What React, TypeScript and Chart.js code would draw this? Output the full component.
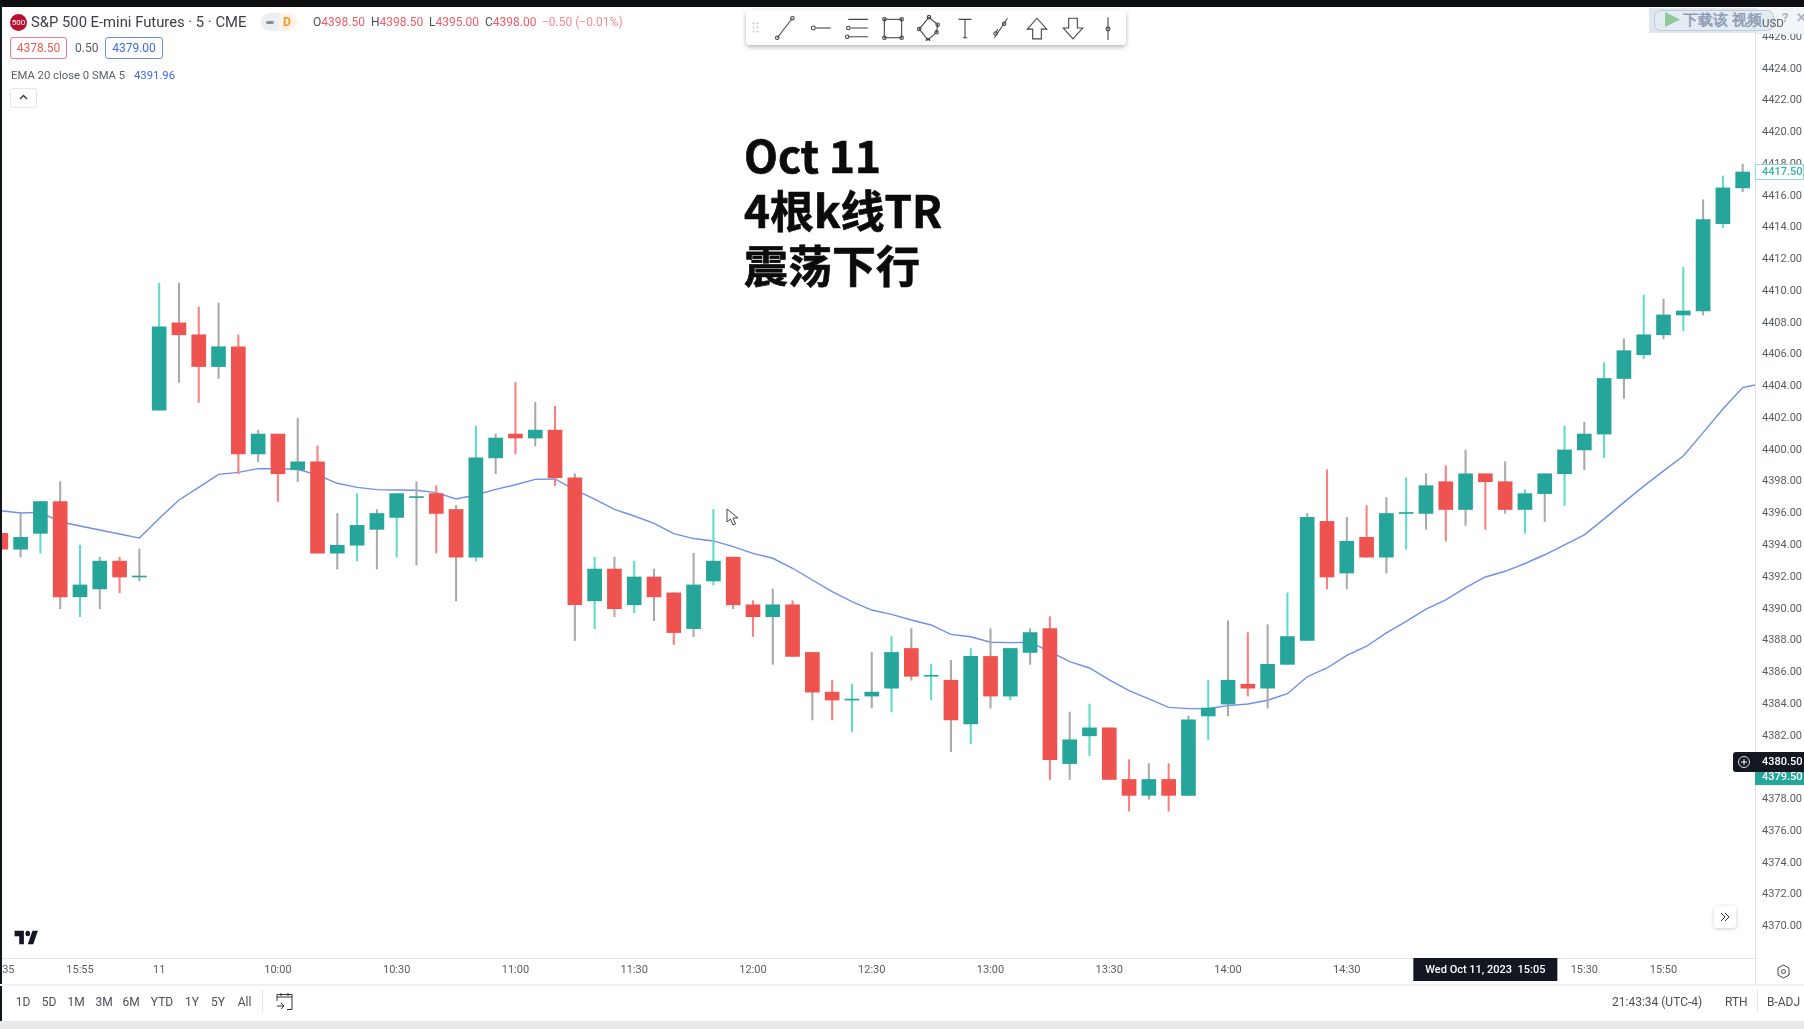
import React, { useEffect, useRef } from "react";
import { Chart, registerables } from "chart.js";

Chart.register(...registerables);

const opens = [4394.75,4393.75,4394.75,4396.75,4390.75,4391.25,4393,4392,4402.5,4408,4407.25,4405.25,4406.5,4399.75,4401,4398.75,4399.25,4393.5,4394,4395,4395.75,4397,4397.25,4396.25,4393.25,4399.5,4401,4400.75,4401.25,4398.25,4390.5,4392.5,4390.25,4392,4391,4388.75,4391.75,4393.25,4390.25,4389.5,4390.25,4387.25,4384.75,4384.25,4384.5,4385,4387.5,4385.75,4385.5,4382.75,4387,4384.5,4387.25,4388.75,4380.25,4382,4382.5,4379.25,4378.25,4379.25,4378.25,4383.25,4384,4385.25,4385,4386.5,4388,4395.5,4392.25,4394.5,4393.25,4396,4396,4398,4396.25,4398.5,4398,4396.25,4397.25,4398.5,4400,4401,4404.5,4406,4407.25,4408.5,4408.75,4414.25,4416.5];
const highs = [4394.75,4396,4396.75,4398,4394,4393.25,4393.25,4393.75,4410.5,4410.5,4409,4409.25,4407.25,4401.25,4401,4402,4400.25,4396,4397.25,4396.25,4397.25,4398,4397.75,4396.5,4401.5,4401,4404.25,4403,4402.75,4398.5,4393.25,4393.25,4393,4392.5,4391,4393.5,4396.25,4393.25,4390.5,4391.25,4390.5,4387.25,4385.5,4385.25,4387.25,4388.25,4388.75,4386.5,4386.75,4387.5,4388.75,4387.5,4388.75,4389.5,4383.5,4384,4382.5,4380.5,4380.25,4380.25,4383.25,4385.5,4389.25,4388.5,4389,4391,4396,4398.75,4395.75,4396.5,4397,4398.25,4398.5,4399,4400,4398.5,4399.25,4397.5,4398.5,4401.5,4401.75,4405.5,4407,4409.75,4409.5,4411.5,4415.75,4417.25,4418];
const lows = [4393.75,4393.25,4393.5,4390,4389.5,4390,4391,4391.75,4402.5,4404.25,4403,4404.5,4398.5,4399.25,4396.75,4398,4393.5,4392.5,4393,4392.5,4393.25,4392.75,4393.5,4390.5,4393,4398.5,4399.75,4400.25,4397.75,4388,4388.75,4389.5,4389.75,4389.25,4387.75,4388.25,4391.5,4390,4388.25,4386.5,4387,4383,4383,4382.25,4383.75,4383.5,4385.5,4384.25,4381,4381.5,4383.75,4384.25,4386.5,4379.25,4379.25,4380.75,4379.25,4377.25,4378,4377.25,4378.25,4381.75,4383.25,4384.5,4383.75,4386.5,4388,4391.25,4391.25,4393.25,4392.25,4393.75,4395,4394.25,4395.25,4395,4396,4394.75,4395.5,4396.5,4398.75,4399.5,4403.25,4405.75,4407,4407.5,4408.5,4414,4416.25];
const closes = [4393.75,4394.5,4396.75,4390.75,4391.5,4393,4392,4392,4407.75,4407.25,4405.25,4406.5,4399.75,4401,4398.5,4399.25,4393.5,4394,4395.25,4396,4397.25,4397,4396,4393.25,4399.5,4400.75,4400.75,4401.25,4398.25,4390.25,4392.5,4390,4392,4390.75,4388.5,4391.5,4393,4390.25,4389.5,4390.25,4387,4384.75,4384.25,4384.25,4384.75,4387.25,4385.75,4385.75,4383,4387,4384.5,4387.5,4388.5,4380.5,4381.75,4382.5,4379.25,4378.25,4379.25,4378.25,4383,4383.75,4385.5,4385,4386.5,4388.25,4395.75,4392,4394.25,4393.25,4396,4396,4397.75,4396.25,4398.5,4398,4396.25,4397.25,4398.5,4400,4401,4404.5,4406.25,4407.25,4408.5,4408.75,4414.5,4416.5,4417.5];
const ema = [4396.17,4396.03,4396.07,4395.48,4395.21,4394.96,4394.71,4394.45,4395.69,4396.85,4397.64,4398.46,4398.59,4398.82,4398.82,4398.78,4398.42,4397.9,4397.64,4397.5,4397.48,4397.46,4397.31,4396.91,4397.16,4397.52,4397.81,4398.15,4398.17,4397.48,4396.9,4396.26,4395.84,4395.38,4394.73,4394.42,4394.27,4393.91,4393.49,4393.18,4392.55,4391.81,4391.08,4390.45,4389.92,4389.65,4389.29,4388.98,4388.39,4388.24,4387.89,4387.87,4387.89,4387.3,4386.67,4386.27,4385.52,4384.84,4384.32,4383.79,4383.71,4383.72,4383.9,4384,4384.24,4384.65,4385.72,4386.27,4387.06,4387.64,4388.48,4389.21,4389.98,4390.56,4391.33,4392,4392.36,4392.85,4393.4,4394.03,4394.65,4395.66,4396.7,4397.72,4398.68,4399.62,4401.09,4402.58,4403.93,4404.19];
const priceTicks = [4370,4372,4374,4376,4378,4380,4382,4384,4386,4388,4390,4392,4394,4396,4398,4400,4402,4404,4406,4408,4410,4412,4414,4416,4418,4420,4422,4424,4426];
const timeTickBars = [0,4,8,14,20,26,32,38,44,50,56,62,68,80,84];
const timeTickLabels = ["15:35","15:55","11","10:00","10:30","11:00","11:30","12:00","12:30","13:00","13:30","14:00","14:30","15:30","15:50"];
const annotationLines = ["Oct 11", "4根k线TR", "震荡下行"];
const rangeButtons = ["1D","5D","1M","3M","6M","YTD","1Y","5Y","All"];
const rangeCenters = [23,49,76,104,131,162,192,218,244.5];
const lastPriceTag = 4417.5;
const crosshairPriceTag = 4380.5;
const askPriceTag = 4379.5;
const crosshairBar = 75;
const crosshairLabel = "Wed Oct 11, 2023  15:05";

const GREEN = "#26a69a";
const RED = "#ef5350";
const WICK_GREEN = "#5edcc8";
const WICK_RED = "#fb7f7f";
const WICK_GRAY = "#a9a9a9";
const FONT = "Roboto, 'Noto Sans', sans-serif";
const BAR_STEP = 19.794;
const FIRST_BAR_X = 0.81;
const PLOT_RIGHT = 1755;

const isUp = (i: number) => closes[i] >= opens[i];
const wickMuted = (i: number) => (i <= 42 ? i % 2 === 1 : i % 2 === 0);

const priceTags = {
  id: "priceTags",
  afterDraw(chart: any) {
    const { ctx, scales } = chart;
    const y = scales.y;
    const x = scales.x;
    const tag = (v: number, up: number, down: number, textDy: number, fill: string, stroke: string, color: string) => {
      const py = Math.round(y.getPixelForValue(v));
      ctx.save();
      ctx.fillStyle = fill;
      ctx.strokeStyle = stroke;
      ctx.fillRect(PLOT_RIGHT, py - up, 49, up + down);
      if (stroke !== fill) ctx.strokeRect(PLOT_RIGHT + 0.5, py - up + 0.5, 48, up + down - 1);
      ctx.fillStyle = color;
      ctx.font = `500 11px ${FONT}`;
      ctx.textBaseline = "middle";
      ctx.textAlign = "left";
      ctx.fillText(v.toFixed(2), 1762, py + textDy);
      ctx.restore();
    };
    tag(lastPriceTag, 8, 8, 0.5, "#ffffff", "#8fdcd2", "#35b5a6");
    tag(askPriceTag, 8, 9, 1.5, GREEN, GREEN, "#ffffff");
    tag(crosshairPriceTag, 8, 12, 2, "#131722", "#131722", "#ffffff");
    const cx = x.getPixelForValue(crosshairBar);
    ctx.save();
    ctx.fillStyle = "#131722";
    ctx.fillRect(cx - 72, chart.chartArea.bottom, 144, 23);
    ctx.fillStyle = "#ffffff";
    ctx.font = `500 11px ${FONT}`;
    ctx.textBaseline = "middle";
    ctx.textAlign = "center";
    ctx.fillText(crosshairLabel, cx, chart.chartArea.bottom + 12);
    ctx.restore();
  },
};

const Txt = ({ x, y, size = 12, color = "#4a4e58", weight = 400, center = false, children }: any) => (
  <div
    style={{
      position: "absolute",
      left: x,
      top: y - 12,
      height: 24,
      lineHeight: "24px",
      fontSize: size,
      fontWeight: weight,
      color,
      fontFamily: FONT,
      whiteSpace: "pre",
      transform: center ? "translateX(-50%)" : undefined,
    }}
  >
    {children}
  </div>
);

const Box = ({ x, y, w, h, style }: any) => (
  <div style={{ position: "absolute", left: x, top: y, width: w, height: h, boxSizing: "border-box", ...style }} />
);

const toolIcons: React.ReactNode[] = [
  <g><path d="M3 21 L17 3" /><circle cx="3" cy="21" r="1.6" /><circle cx="17" cy="3" r="1.6" /></g>,
  <g><path d="M6 12 H20" /><circle cx="4" cy="12" r="1.8" /></g>,
  <g><path d="M4 4 H22 M6 12 H22 M4 20 H22" /><circle cx="3" cy="20" r="1.6" /><circle cx="4" cy="12" r="1.6" /></g>,
  <g><rect x="4" y="4" width="16" height="17" /><circle cx="4" cy="4" r="1.6" /><circle cx="20" cy="4" r="1.6" /><circle cx="4" cy="21" r="1.6" /><circle cx="20" cy="21" r="1.6" /></g>,
  <g><path d="M12 2 L20 9 L19 16 L11 23 L3 13 Z" /><circle cx="12" cy="2" r="1.6" /><circle cx="20" cy="9" r="1.6" /><circle cx="19" cy="16" r="1.6" /><circle cx="11" cy="23" r="1.6" /><circle cx="3" cy="13" r="1.6" /></g>,
  <g><path d="M6 4 H18 M12 4 V21 M10 21 H14" /></g>,
  <g><path d="M6 21 L18 3 M9 13 L7 17" /><circle cx="7" cy="17" r="1.6" /><circle cx="15" cy="8" r="1.6" /></g>,
  <g><path d="M12 3 L21 13 H16 V22 H8 V13 H3 Z" /></g>,
  <g><path d="M12 22 L21 12 H16 V3 H8 V12 H3 Z" /></g>,
  <g><path d="M12 2 V23" /><circle cx="12" cy="13" r="1.8" /></g>,
];
const toolIconCenters = [787, 822, 857, 893, 929, 965, 1001, 1037, 1072.5, 1108];

export default function App() {
  const ref = useRef<HTMLCanvasElement>(null);

  useEffect(() => {
    document.body.style.margin = "0";
    document.body.style.background = "#ffffff";
    const indices = opens.map((_, i) => i);
    const chart = new Chart(ref.current as HTMLCanvasElement, {
      data: {
        datasets: [
          {
            type: "bar",
            label: "Body",
            order: 0,
            grouped: false,
            barThickness: 14,
            minBarLength: 1,
            data: indices.map((i) => ({ x: i, y: [Math.min(opens[i], closes[i]), Math.max(opens[i], closes[i])] })),
            backgroundColor: indices.map((i) => (isUp(i) ? GREEN : RED)),
            borderWidth: 0,
          },
          {
            type: "bar",
            label: "Wick",
            order: 1,
            grouped: false,
            barThickness: 1.4,
            data: indices.map((i) => ({ x: i, y: [lows[i], highs[i]] })),
            backgroundColor: indices.map((i) => (wickMuted(i) ? WICK_GRAY : isUp(i) ? WICK_GREEN : WICK_RED)),
            borderWidth: 0,
          },
          {
            type: "line",
            label: "EMA 20 close 0 SMA 5",
            order: 2,
            data: ema.map((v, i) => ({ x: i, y: v })),
            borderColor: "#6f8fe8",
            borderWidth: 1.4,
            pointRadius: 0,
            tension: 0,
          },
        ],
      } as any,
      options: {
        animation: false,
        responsive: false,
        maintainAspectRatio: false,
        layout: { padding: { top: 7, bottom: 45, left: 0, right: 0 } },
        plugins: { legend: { display: false }, tooltip: { enabled: false } },
        scales: {
          x: {
            type: "linear",
            offset: false,
            min: (0 - FIRST_BAR_X) / BAR_STEP,
            max: (PLOT_RIGHT - FIRST_BAR_X) / BAR_STEP,
            grid: { display: false, drawTicks: false, offset: false },
            border: { display: true, color: "#e0e3eb" },
            afterBuildTicks: (s: any) => {
              s.ticks = timeTickBars.map((value) => ({ value }));
            },
            afterFit: (s: any) => {
              s.height = 26;
              s.paddingLeft = 0;
              s.paddingRight = 0;
            },
            ticks: {
              autoSkip: false,
              maxRotation: 0,
              minRotation: 0,
              padding: 6,
              color: "#565b66",
              font: { family: FONT, size: 11 },
              callback: (v: any) => timeTickLabels[timeTickBars.indexOf(Number(v))] ?? "",
            },
          },
          y: {
            type: "linear",
            position: "right",
            min: 4368.01,
            max: 4427.89,
            grid: { display: false, drawTicks: false },
            border: { display: true, color: "#e0e3eb" },
            afterBuildTicks: (s: any) => {
              s.ticks = priceTicks.map((value) => ({ value }));
            },
            afterFit: (s: any) => {
              s.width = 1804 - PLOT_RIGHT;
              s.paddingTop = 0;
              s.paddingBottom = 0;
            },
            ticks: {
              autoSkip: false,
              padding: 7,
              color: "#565b66",
              font: { family: FONT, size: 11 },
              callback: (v: any) => Number(v).toFixed(2),
            },
          },
        },
      } as any,
      plugins: [priceTags],
    });
    return () => chart.destroy();
  }, []);

  return (
    <div style={{ position: "absolute", left: 0, top: 0, width: 1804, height: 1029, overflow: "hidden", background: "#fff" }}>
      <canvas ref={ref} width={1804} height={1029} style={{ position: "absolute", left: 0, top: 0, width: 1804, height: 1029 }} />

      {/* frame */}
      <Box x={0} y={0} w={1804} h={7} style={{ background: "#0d0f10" }} />
      <Box x={0} y={0} w={2} h={1029} style={{ background: "#10171a" }} />
      <Box x={0} y={984} w={1804} h={2} style={{ background: "#eef0f3" }} />
      <Box x={0} y={1021} w={1804} h={8} style={{ background: "#e8e9ea" }} />
      <Box x={1755} y={958} w={1} h={26} style={{ background: "#e0e3eb" }} />

      {/* header */}
      <div style={{ position: "absolute", left: 10, top: 14, width: 17, height: 17, borderRadius: 9, background: "#b8102e", color: "#fff", fontSize: 8, fontFamily: FONT, textAlign: "center", lineHeight: "17px" }}>500</div>
      <Txt x={31} y={22} size={14.8} color="#3c4049">S&amp;P 500 E-mini Futures · 5 · CME</Txt>
      <Box x={261} y={13} w={36} h={18} style={{ background: "linear-gradient(90deg,#eceef1 50%,#fdf2e3 50%)", borderRadius: 9 }} />
      <Box x={266} y={21} w={8} h={3} style={{ background: "#8a8e96", borderRadius: 2 }} />
      <Txt x={283} y={22} size={12} color="#f59a23" weight={700}>D</Txt>
      {[["O","4398.50",313],["H","4398.50",371],["L","4395.00",429],["C","4398.00",485]].map(([l, v, x]: any) => (
        <Txt key={l} x={x} y={22} size={12} color="#4a4e58">
          {l}<span style={{ color: "#ef5e68" }}>{v}</span>
        </Txt>
      ))}
      <Txt x={542} y={22} size={12} color="#f28a90">−0.50 (−0.01%)</Txt>
      <Box x={10} y={37} w={57} h={22} style={{ border: "1px solid #f4798a", borderRadius: 3 }} />
      <Txt x={38.5} y={48} size={12} color="#ef5e50" center>4378.50</Txt>
      <Txt x={75} y={48} size={12} color="#555a63">0.50</Txt>
      <Box x={105} y={37} w={58} h={22} style={{ border: "1px solid #6b8df0", borderRadius: 3 }} />
      <Txt x={134} y={48} size={12} color="#3f6af0" center>4379.00</Txt>
      <Txt x={11} y={76} size={11.3} color="#5a5f69">EMA 20 close 0 SMA 5</Txt>
      <Txt x={134} y={76} size={11.3} color="#3f6af0">4391.96</Txt>
      <Box x={10} y={88} w={27} h={20} style={{ border: "1px solid #e4e6ea", borderRadius: 3 }} />
      <svg style={{ position: "absolute", left: 19, top: 94 }} width="9" height="7" viewBox="0 0 9 7"><path d="M1 5 L4.5 1.5 L8 5" fill="none" stroke="#333" strokeWidth="1.3" /></svg>

      {/* drawing toolbar */}
      <Box x={746} y={10} w={380} h={35} style={{ background: "#fff", borderRadius: 4, boxShadow: "0 2px 5px rgba(0,0,0,0.3)" }} />
      <svg style={{ position: "absolute", left: 752, top: 22 }} width="8" height="12">
        {[0, 1].map((c) => [0, 1, 2].map((r) => <circle key={`${c}${r}`} cx={1.5 + c * 4} cy={1.5 + r * 4} r="1" fill="#c4c7cd" />))}
      </svg>
      {toolIcons.map((icon, i) => (
        <svg key={i} style={{ position: "absolute", left: toolIconCenters[i] - 13, top: 15 }} width="26" height="26" viewBox="0 0 24 24" fill="none" stroke="#444" strokeWidth="1">
          {icon}
        </svg>
      ))}

      {/* annotation */}
      {annotationLines.map((t, i) => (
        <div key={t} style={{ position: "absolute", left: 744, top: 154 + i * 55 - 30, height: 60, lineHeight: "60px", fontSize: 44, fontWeight: 700, color: "#0b0b0b", WebkitTextStroke: "0.7px #0b0b0b", fontFamily: "'Noto Sans CJK SC', 'Noto Sans', sans-serif", whiteSpace: "pre" } as any}>{t}</div>
      ))}

      {/* video overlay */}
      <Box x={1649} y={8} w={155} h={25} style={{ background: "#dfe6f0" }} />
      <Box x={1757} y={8} w={47} h={26} style={{ background: "rgba(255,255,255,0.55)", borderLeft: "1px solid #e6e8ee", borderBottom: "1px solid #e6e8ee" }} />
      <Box x={1654} y={10} w={120} h={21} style={{ background: "#e3ebf3", border: "1px solid #bccadb", borderRadius: 7 }} />
      <svg style={{ position: "absolute", left: 1665, top: 12 }} width="15" height="15"><path d="M0 0 L15 7.5 L0 15 Z" fill="#8ec99a" /></svg>
      <Txt x={1683} y={20} size={15} color="#8f9db3" weight={700}>下载该 视频</Txt>
      <Txt x={1762} y={23} size={11.5} color="#555a63">USD</Txt>
      <Txt x={1782} y={18} size={13} color="#aab2bc" weight={700}>?</Txt>
      <Txt x={1796} y={18} size={13} color="#aab2bc" weight={700}>✕</Txt>

      {/* crosshair plus */}
      <Box x={1733} y={752} w={22} h={20} style={{ background: "#131722", borderRadius: "3px 0 0 3px" }} />
      <svg style={{ position: "absolute", left: 1737, top: 755 }} width="14" height="14"><circle cx="7" cy="7" r="5.5" fill="none" stroke="#ddd" /><path d="M7 4 V10 M4 7 H10" stroke="#fff" /></svg>

      {/* logo */}
      <svg style={{ position: "absolute", left: 13, top: 929 }} width="28" height="18" viewBox="0 4 36 20" preserveAspectRatio="none">
        <path d="M14 6H2v6h6v9h6V6Zm12 15h-7l6-15h7l-6 15Zm-7-9a3 3 0 1 0 0-6 3 3 0 0 0 0 6Z" fill="#131722" />
      </svg>

      {/* scroll button */}
      <Box x={1714} y={906} w={22} h={22} style={{ background: "#fff", borderRadius: 3, boxShadow: "0 1px 4px rgba(0,0,0,0.2)" }} />
      <svg style={{ position: "absolute", left: 1719, top: 911 }} width="12" height="12"><path d="M2 2 L6 6 L2 10 M6 2 L10 6 L6 10" fill="none" stroke="#333" /></svg>

      {/* cursor */}
      <svg style={{ position: "absolute", left: 726, top: 508 }} width="14" height="19" viewBox="0 0 14 19"><path d="M1 1 L1 14 L4.5 11 L7 17 L9.5 16 L7 10 L12 10 Z" fill="#fff" stroke="#444" strokeWidth="1" /></svg>

      {/* settings */}
      <svg style={{ position: "absolute", left: 1776, top: 964 }} width="15" height="15" viewBox="0 0 15 15"><path d="M7.5 1 L13 4 V11 L7.5 14 L2 11 V4 Z" fill="none" stroke="#444" /><circle cx="7.5" cy="7.5" r="2" fill="none" stroke="#444" /></svg>

      {/* footer */}
      {rangeButtons.map((t, i) => (
        <Txt key={t} x={rangeCenters[i]} y={1002} size={12} color="#4a4e58" center>{t}</Txt>
      ))}
      <Box x={262} y={990} w={1} h={22} style={{ background: "#e0e3eb" }} />
      <svg style={{ position: "absolute", left: 276, top: 992 }} width="17" height="19" viewBox="0 0 17 19" fill="none" stroke="#333"><path d="M1 5 H16 M1 9 V2.5 H16 V17.5 H11 M5 1 V4 M12 1 V4 M1 14 H8 M5 11 L8 14 L5 17" /></svg>
      <Txt x={1612} y={1002} size={12} color="#4a4e58">21:43:34 (UTC-4)</Txt>
      <Txt x={1725} y={1002} size={12} color="#4a4e58">RTH</Txt>
      <Box x={1757} y={990} w={1} h={22} style={{ background: "#e0e3eb" }} />
      <Txt x={1767} y={1002} size={12} color="#4a4e58">B-ADJ</Txt>
    </div>
  );
}
